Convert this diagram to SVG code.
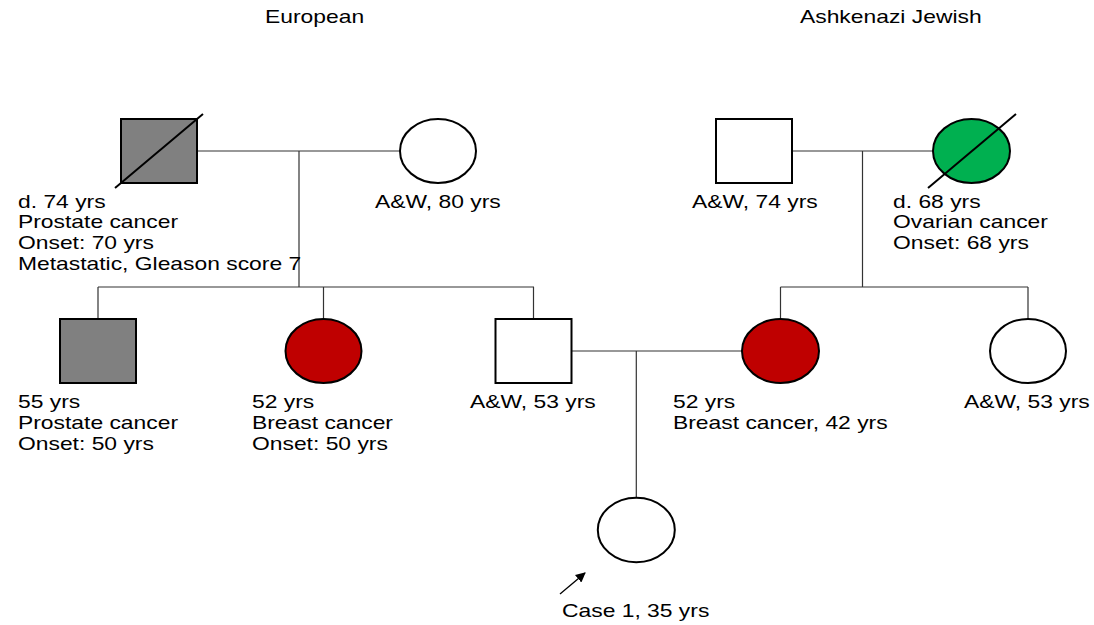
<svg xmlns="http://www.w3.org/2000/svg" width="1094" height="625" viewBox="0 0 1094 625">
<defs>
<style>
.lbl{font-family:"Liberation Sans",Arial,sans-serif;font-size:18px;fill:#000}
.shape{stroke:#000;stroke-width:2}
.male{fill:#fff}
.gray{fill:#808080}
.red{fill:#bf0000}
.green{fill:#00b050}
.dead{stroke:#000;stroke-width:2}
.conn{fill:none;stroke:#333;stroke-width:1.2}
</style>
<marker id="ah" viewBox="0 0 10 10" refX="9" refY="5" markerWidth="10" markerHeight="10" markerUnits="userSpaceOnUse" orient="auto">
<path d="M0,0 L10,5 L0,10 z" fill="#000"/>
</marker>
</defs>
<rect width="1094" height="625" fill="#fff"/>

<g id="titles">
<text class="lbl" transform="translate(265,23) scale(1.27,1)">European</text>
<text class="lbl" transform="translate(800,23) scale(1.27,1)">Ashkenazi Jewish</text>
</g>

<g id="connectors">
<path class="conn" d="M197,151 H400 M299,151 V287 M98,287 H534 M98,287 V319 M323.5,287 V319 M533.5,287 V319"/>
<path class="conn" d="M792,151 H933 M862.5,151 V287 M780.5,287 H1028 M780.5,287 V319 M1028,287 V319"/>
<path class="conn" d="M571.5,351 H742 M636.3,351 V498"/>
<line x1="560" y1="594" x2="585" y2="573" stroke="#000" stroke-width="1.3" marker-end="url(#ah)"/>
</g>

<g id="paternal-grandfather">
<rect class="shape gray" x="121" y="119" width="76" height="64"/>
<line class="dead" x1="115" y1="188" x2="203" y2="114"/>
<text class="lbl" transform="translate(18,207.5) scale(1.27,1)"><tspan x="0" y="0">d. 74 yrs</tspan><tspan x="0" y="21">Prostate cancer</tspan><tspan x="0" y="42">Onset: 70 yrs</tspan><tspan x="0" y="63">Metastatic, Gleason score 7</tspan></text>
</g>

<g id="paternal-grandmother">
<ellipse class="shape male" cx="438" cy="151" rx="38" ry="32"/>
<text class="lbl" transform="translate(375,207.5) scale(1.27,1)">A&amp;W, 80 yrs</text>
</g>

<g id="maternal-grandfather">
<rect class="shape male" x="716" y="119" width="76" height="64"/>
<text class="lbl" transform="translate(692,207.5) scale(1.27,1)">A&amp;W, 74 yrs</text>
</g>

<g id="maternal-grandmother">
<ellipse class="shape green" cx="971.5" cy="151" rx="38.5" ry="32"/>
<line class="dead" x1="928" y1="188" x2="1016" y2="114"/>
<text class="lbl" transform="translate(893,207.5) scale(1.27,1)"><tspan x="0" y="0">d. 68 yrs</tspan><tspan x="0" y="21">Ovarian cancer</tspan><tspan x="0" y="42">Onset: 68 yrs</tspan></text>
</g>

<g id="uncle">
<rect class="shape gray" x="60" y="319" width="76" height="64"/>
<text class="lbl" transform="translate(18,408) scale(1.27,1)"><tspan x="0" y="0">55 yrs</tspan><tspan x="0" y="21">Prostate cancer</tspan><tspan x="0" y="42">Onset: 50 yrs</tspan></text>
</g>

<g id="aunt">
<ellipse class="shape red" cx="323.5" cy="351" rx="38" ry="32"/>
<text class="lbl" transform="translate(252,408) scale(1.27,1)"><tspan x="0" y="0">52 yrs</tspan><tspan x="0" y="21">Breast cancer</tspan><tspan x="0" y="42">Onset: 50 yrs</tspan></text>
</g>

<g id="father">
<rect class="shape male" x="495.5" y="319" width="76" height="64"/>
<text class="lbl" transform="translate(470,408) scale(1.27,1)">A&amp;W, 53 yrs</text>
</g>

<g id="mother">
<ellipse class="shape red" cx="780.5" cy="351" rx="38.5" ry="32"/>
<text class="lbl" transform="translate(673,408) scale(1.27,1)"><tspan x="0" y="0">52 yrs</tspan><tspan x="0" y="21">Breast cancer, 42 yrs</tspan></text>
</g>

<g id="maternal-aunt">
<ellipse class="shape male" cx="1028" cy="351" rx="38" ry="32"/>
<text class="lbl" transform="translate(964,408) scale(1.27,1)">A&amp;W, 53 yrs</text>
</g>

<g id="proband">
<ellipse class="shape male" cx="636.3" cy="530" rx="38.5" ry="32.3"/>
<text class="lbl" transform="translate(562,617) scale(1.27,1)">Case 1, 35 yrs</text>
</g>
</svg>
